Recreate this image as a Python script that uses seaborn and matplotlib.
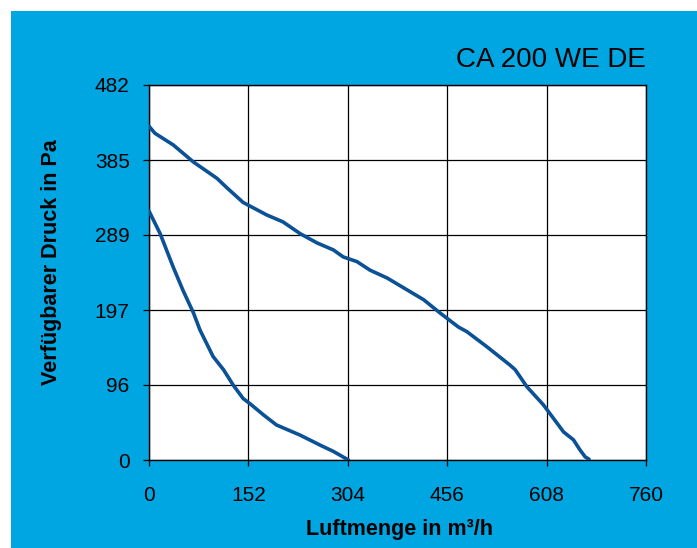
import matplotlib
matplotlib.use("Agg")
import matplotlib.pyplot as plt
from matplotlib.patches import Rectangle
import seaborn as sns
import pandas as pd

# ---- data ----
upper_x = [0, 9, 37, 68, 104, 119, 144, 180, 205, 231, 257, 282, 297, 318, 338, 364,
           394, 420, 445, 473, 486, 516, 552, 560, 578, 603, 634, 649, 659, 667, 673]
upper_y = [429, 420, 405, 383, 362, 350, 331, 315, 306, 291, 279, 270, 261, 255, 244, 234,
           219, 206, 189, 171, 165, 146, 122, 116, 94, 71, 36, 26, 13, 4, 1]
lower_x = [0, 17, 37, 52, 68, 78, 98, 114, 129, 144, 155, 175, 195, 231, 262, 282, 305]
lower_y = [320, 291, 248, 218, 189, 167, 133, 116, 96, 79, 72, 58, 45, 32, 19, 11, 0]

x_ticks = [0, 152, 304, 456, 608, 760]
y_tick_labels = ["0", "96", "197", "289", "385", "482"]
y_max = 482
title = "CA 200 WE DE"
xlabel = "Luftmenge in m³/h"
ylabel = "Verfügbarer Druck in Pa"

BG = "#00A6E1"
LINE = "#0B5196"

sns.set_style("white")
plt.rcParams["font.family"] = ["Liberation Sans", "DejaVu Sans"]

fig = plt.figure(figsize=(6.97, 5.48), dpi=100, facecolor="white")
fig.add_artist(Rectangle((11 / 697, 0), 1, 1 - 11 / 548, transform=fig.transFigure,
                         facecolor=BG, edgecolor="none", zorder=-1))

ax = fig.add_axes([149 / 697, 1 - 460 / 548, 497 / 697, 375 / 548])
ax.set_facecolor("white")

df_u = pd.DataFrame({"x": upper_x, "y": upper_y})
df_l = pd.DataFrame({"x": lower_x, "y": lower_y})
sns.lineplot(data=df_u, x="x", y="y", sort=False, ax=ax, color=LINE, lw=2.6, zorder=3)
sns.lineplot(data=df_l, x="x", y="y", sort=False, ax=ax, color=LINE, lw=2.6, zorder=3)

ax.set_xlim(0, 760)
ax.set_ylim(0, y_max)
ax.set_xticks(x_ticks)
ax.set_xticklabels([str(v) for v in x_ticks])
yt = [y_max * i / 5 for i in range(6)]
ax.set_yticks(yt)
ax.set_yticklabels(y_tick_labels)

ax.grid(True, color="black", lw=0.9, zorder=1)
ax.set_axisbelow(True)
for s in ax.spines.values():
    s.set_visible(True)
    s.set_color("black")
    s.set_linewidth(1.0)

ax.tick_params(axis="both", direction="out", length=4.5, width=0.9, colors="black",
               labelsize=15)
ax.tick_params(axis="x", pad=14.5, bottom=True)
ax.tick_params(axis="y", pad=9.4, left=True)

ax.set_xlabel("")
ax.set_ylabel("")
fig.text(399 / 697, 1 - 529 / 548, xlabel, ha="center", va="center",
         fontsize=15.5, fontweight="bold", color="black")
fig.text(52 / 697, 1 - 262.5 / 548, ylabel, ha="center", va="center", rotation=90,
         fontsize=15.5, fontweight="bold", color="black")
fig.text(646 / 697, 1 - 66.7 / 548, title, ha="right", va="baseline",
         fontsize=20, color="black")

fig.savefig("out.png", dpi=100, facecolor=fig.get_facecolor())
